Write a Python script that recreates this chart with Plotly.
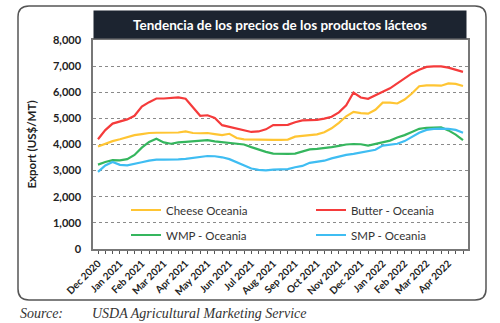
import plotly.graph_objects as go

months = ["Dec 2020", "Jan 2021", "Feb 2021", "Mar 2021", "Apr 2021", "May 2021", "Jun 2021",
          "Jul 2021", "Aug 2021", "Sep 2021", "Oct 2021", "Nov 2021", "Dec 2021", "Jan 2022",
          "Feb 2022", "Mar 2022", "Apr 2022"]

cheese = [3920, 4040, 4130, 4200, 4290, 4360, 4400, 4440, 4450, 4450, 4450, 4460, 4500, 4440,
          4430, 4440, 4400, 4360, 4410, 4250, 4200, 4190, 4180, 4180, 4180, 4180, 4190, 4300,
          4340, 4360, 4390, 4470, 4620, 4830, 5080, 5250, 5200, 5180, 5330, 5600, 5600, 5570,
          5720, 5950, 6230, 6260, 6260, 6250, 6340, 6320, 6240]
butter = [4200, 4550, 4800, 4880, 4960, 5100, 5450, 5620, 5760, 5760, 5770, 5800, 5750, 5420,
          5100, 5120, 5020, 4740, 4670, 4600, 4530, 4480, 4500, 4580, 4740, 4740, 4750, 4850,
          4920, 4930, 4940, 4990, 5060, 5230, 5500, 5990, 5800, 5750, 5900, 6020, 6150, 6350,
          6530, 6720, 6860, 6970, 6990, 6990, 6940, 6860, 6780]
wmp = [3230, 3330, 3400, 3390, 3440, 3600, 3880, 4100, 4220, 4080, 4030, 4080, 4100, 4130,
       4150, 4165, 4120, 4090, 4070, 4050, 4000, 3900, 3800, 3720, 3650, 3640, 3640, 3650,
       3720, 3810, 3830, 3860, 3900, 3950, 4000, 4020, 4010, 3960, 4030, 4080, 4150, 4270,
       4360, 4480, 4600, 4640, 4660, 4660, 4540, 4380, 4170]
smp = [2950, 3200, 3330, 3220, 3200, 3250, 3320, 3380, 3420, 3420, 3420, 3430, 3450, 3490,
       3520, 3560, 3550, 3510, 3440, 3330, 3200, 3080, 3030, 3010, 3040, 3040, 3060, 3130,
       3180, 3300, 3340, 3380, 3470, 3540, 3600, 3640, 3690, 3730, 3800, 3960, 4000, 4030,
       4130, 4300, 4450, 4560, 4600, 4610, 4600, 4560, 4450]

series_names = ["Cheese Oceania", "Butter - Oceania", "WMP - Oceania", "SMP - Oceania"]
series_colors = ["#FFC533", "#F53B3B", "#35B65E", "#3FBDF2"]

n = len(cheese)
xs = list(range(n))
tickvals = xs
ticktext = [months[i // 3] if i % 3 == 0 and i // 3 < len(months) else "" for i in xs]

# pixel geometry
W, H = 500, 323
L, R, T, B = 93, 468, 40, 249


def xp(px):
    return (px - L) / (R - L)


def yp(py):
    return (B - py) / (B - T)


fig = go.Figure()
legends = ["legend", "legend2", "legend3", "legend4"]
for name, vals, col, lg in zip(series_names, [cheese, butter, wmp, smp], series_colors, legends):
    fig.add_trace(go.Scatter(x=xs, y=vals, mode="lines", name=name, showlegend=True,
                             line=dict(color=col, width=2.2), legend=lg))

font_main = "Lato, 'Open Sans', sans-serif"

leg_common = dict(bgcolor="rgba(0,0,0,0)", borderwidth=0, yanchor="middle", xanchor="left",
                  visible=True,
                  font=dict(family=font_main, size=11.5, color="#333333"))

# rounded outer box path
x0, y0, x1, y1, r = 18, 6, 486, 300, 11
pts = [
    ("M", xp(x0 + r), yp(y0)),
    ("L", xp(x1 - r), yp(y0)),
    ("Q", xp(x1), yp(y0), xp(x1), yp(y0 + r)),
    ("L", xp(x1), yp(y1 - r)),
    ("Q", xp(x1), yp(y1), xp(x1 - r), yp(y1)),
    ("L", xp(x0 + r), yp(y1)),
    ("Q", xp(x0), yp(y1), xp(x0), yp(y1 - r)),
    ("L", xp(x0), yp(y0 + r)),
    ("Q", xp(x0), yp(y0), xp(x0 + r), yp(y0)),
]
path = ""
for p in pts:
    cmd = p[0]
    coords = p[1:]
    if cmd == "Q":
        path += f"Q{coords[0]:.5f},{coords[1]:.5f} {coords[2]:.5f},{coords[3]:.5f} "
    else:
        path += f"{cmd}{coords[0]:.5f},{coords[1]:.5f} "
path += "Z"

fig.update_layout(
    width=W, height=H,
    showlegend=True,
    margin=dict(l=L, r=W - R, t=T, b=H - B, autoexpand=False),
    paper_bgcolor="white", plot_bgcolor="white",
    font=dict(family=font_main, color="#222222"),
    legend=dict(x=xp(126), y=yp(210), **leg_common),
    legend2=dict(x=xp(311), y=yp(210), **leg_common),
    legend3=dict(x=xp(126), y=yp(235), **leg_common),
    legend4=dict(x=xp(311), y=yp(235), **leg_common),
    xaxis=dict(range=[-0.685, n - 1 + 0.685], tickmode="array", tickvals=tickvals,
               ticktext=ticktext, tickangle=-45, ticks="outside", ticklen=3, tickwidth=1,
               tickcolor="#555555", showline=True, linecolor="#777777", linewidth=1.5,
               mirror=True, showgrid=False, zeroline=False,
               tickfont=dict(family=font_main, size=10, color="#222222", weight="bold")),
    yaxis=dict(range=[0, 8000], dtick=1000, tickformat=",d", showline=True,
               linecolor="#777777", linewidth=1.5, mirror=True, showgrid=True,
               gridcolor="#8a8a8a", griddash="dot", gridwidth=1.4, zeroline=False,
               ticks="", ticklabelstandoff=8,
               tickfont=dict(family=font_main, size=11, color="#222222", weight="bold"),
               title=dict(text="Export (US$/MT)", standoff=14,
                          font=dict(family=font_main, size=11.5, color="#222222", weight="bold"))),
    shapes=[dict(type="path", path=path, xref="paper", yref="paper",
                 line=dict(color="#555555", width=1.5), fillcolor="rgba(0,0,0,0)", layer="below")],
    annotations=[
        dict(text="<b>Tendencia de los precios de los productos lácteos</b>", xref="paper", yref="paper",
             x=xp(280), y=yp(24.5), xanchor="center", yanchor="middle", showarrow=False,
             width=370, height=25, bgcolor="#1c2430",
             font=dict(family=font_main, size=13.5, color="white")),
        dict(text="<i>Source:</i>", xref="paper", yref="paper", x=xp(18), y=yp(313),
             xanchor="left", yanchor="middle", showarrow=False,
             font=dict(family="Liberation Serif, serif", size=14, color="#333333")),
        dict(text="<i>USDA Agricultural Marketing Service</i>", xref="paper", yref="paper",
             x=xp(90), y=yp(313), xanchor="left", yanchor="middle", showarrow=False,
             font=dict(family="Liberation Serif, serif", size=14, color="#333333")),
    ],
)

fig.write_html("out.html")
